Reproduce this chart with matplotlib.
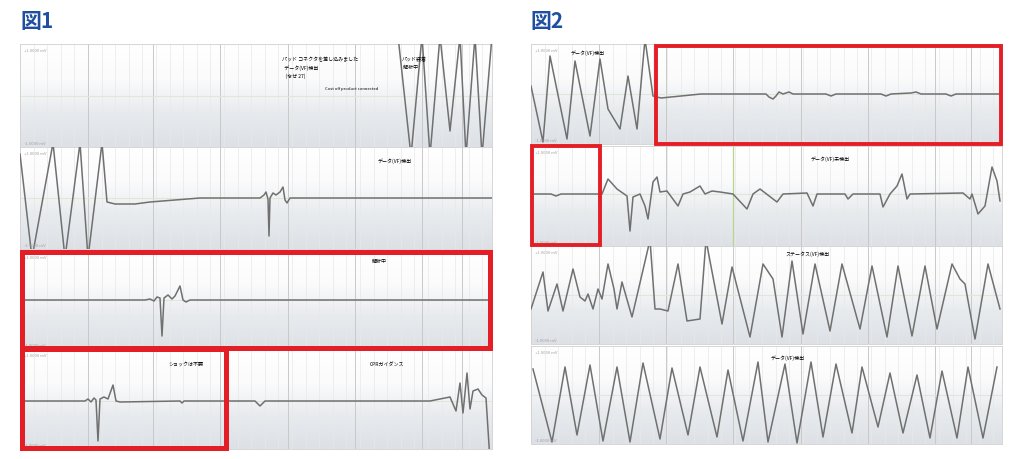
import numpy as np
import matplotlib
matplotlib.use("Agg")
import matplotlib.pyplot as plt
from matplotlib.patches import Rectangle

plt.rcParams['font.family'] = ['Noto Sans CJK JP', 'DejaVu Sans']

W, H = 1012, 460

# ---- data: ECG traces, time in samples, amplitude in 0.02 mV units ----
f1_s1_t = [378, 391, 402, 410, 420, 430, 440, 446, 455, 462, 472]
f1_s1_v = [60, -60, 60, -60, 60, -35, 60, -60, 60, -60, 60]

f1_s2_t = [0, 12, 33, 45, 60, 68, 82, 87, 95, 115, 130, 180, 240, 244, 246, 248, 249, 250,
           253, 256, 260, 263, 265, 267, 270, 472]
f1_s2_v = [44, -60, 55, -60, 55, -60, 55, -4, -6, -6, -4, 0, 0, 3, 6, -1, -38, 0,
           5, 3, 6, 11, -2, -5, 0, 0]

f1_s3_t = [0, 125, 130, 134, 137, 140, 142, 144, 148, 152, 155, 160, 163, 166, 170, 472]
f1_s3_v = [0, 0, 1, -1, 3, 2, -36, 2, 5, 1, 4, 14, 0, -2, 0, 0]

f1_s4_t = [0, 65, 68, 71, 74, 76, 78, 80, 84, 88, 93, 96, 100, 160, 162, 164, 235, 240, 245,
           410, 420, 430, 436, 440, 443, 447, 450, 453, 458, 462, 466, 470]
f1_s4_v = [0, 0, 2, -1, 3, 1, -40, 2, 4, 2, 16, 0, -1, 0, -2, 0, 0, -5, 0,
           0, 2, 4, -10, 18, -12, 28, -8, 10, 12, 6, 3, -60]

f2_s1_t = [0, 12, 19, 36, 44, 59, 69, 77, 89, 97, 106, 114, 122, 130, 150, 170, 235, 238,
           242, 245, 248, 252, 258, 262, 295, 300, 305, 350, 355, 360, 380, 385, 390, 415,
           420, 425, 471]
f2_s1_v = [8, -48, 38, -45, 33, -42, 35, -15, -35, 18, -35, 55, -2, -4, -2, 0, 0, -3,
           -5, -2, 2, 0, 2, 0, 0, -2, 0, 0, -2, 0, 1, 2, 0, 0,
           -2, 0, 0]

f2_s2_t = [0, 20, 25, 30, 71, 77, 86, 96, 99, 102, 109, 114, 117, 122, 126, 129, 136, 147,
           152, 159, 169, 174, 181, 189, 202, 216, 222, 229, 246, 252, 276, 282, 286, 314,
           317, 322, 349, 352, 359, 366, 371, 376, 379, 432, 439, 441, 447, 454, 461, 466, 469]
f2_s2_v = [0, 0, -2, 0, 0, 15, 5, -2, -37, -3, 0, -12, -25, 12, 17, 2, 3, -12,
           0, 2, 8, 0, 3, 2, 0, -15, 0, 5, -8, 0, 1, -12, 0, 0,
           -5, 0, 0, -13, 0, 8, 20, -5, 0, 1, -5, 0, -20, -12, 27, 13, -7]

f2_s3_t = [0, 12, 17, 26, 32, 42, 49, 54, 57, 62, 67, 71, 77, 83, 86, 91, 101, 119, 124,
           129, 137, 147, 156, 169, 175, 191, 201, 219, 232, 242, 251, 261, 272, 284, 299,
           311, 329, 341, 356, 367, 381, 394, 406, 421, 429, 434, 444, 457, 469]
f2_s3_v = [-14, 23, -16, 11, -16, 26, -2, -6, 1, -14, 6, -4, 31, 6, -14, 13, -22, 55, -14,
           -14, -16, 31, -26, -24, 55, -29, 28, -42, 31, 16, -42, 34, -39, 31, -36,
           31, -34, 29, -42, 29, -41, 29, -34, 31, 16, 11, -44, 31, -14]

f2_s4_t = [2, 21, 34, 46, 59, 72, 86, 99, 112, 129, 141, 157, 169, 186, 197, 212, 227, 237,
           254, 266, 280, 292, 305, 321, 331, 347, 359, 372, 386, 399, 411, 426, 437, 452, 466]
f2_s4_v = [26, -47, 28, -40, 30, -46, 28, -47, 32, -44, 27, -40, 28, -42, 25, -46, 33, -47,
           31, -48, 33, -42, 31, -38, 28, -32, 22, -38, 20, -43, 24, -43, 28, -43, 28]

f1_labels = [["パッド コネクタを差し込みました\n  データ(VF)検出\n   (なぜ 27)", "パッド装着\n 解析中"],
             ["データ(VF)検出"], ["解析中"], ["ショックは不要", "CPRガイダンス"]]
f2_labels = [["データ(VF)検出"], ["データ(VF)未検出"], ["ステータス(VF)検出"], ["データ(VF)検出"]]

fig = plt.figure(figsize=(W / 100, H / 100), dpi=100)
fig.patch.set_facecolor('white')

grad = np.linspace(0, 1, 100).reshape(-1, 1)
bgcmap = matplotlib.colors.LinearSegmentedColormap.from_list(
    'bg', ['#ffffff', '#fbfbfc', '#e8ebee', '#dde1e6'])


def strip(x0, y0, x1, y1, t, v, base, gridx, green=None):
    ax = fig.add_axes([x0 / W, 1 - y1 / H, (x1 - x0) / W, (y1 - y0) / H])
    ax.set_xlim(0, x1 - x0)
    ax.set_ylim(base - y1, base - y0)
    ax.imshow(grad, cmap=bgcmap, aspect='auto', extent=[0, x1 - x0, base - y1, base - y0],
              zorder=0)
    for gx in np.arange(0, x1 - x0, 13.6):
        ax.axvline(gx, color='#e8e8e8', lw=0.5, zorder=1)
    for gx in gridx:
        ax.axvline(gx, color='#c9c9c9', lw=0.7, zorder=1)
    ax.axhline(0, color='#dfe6dc', lw=0.8, zorder=1)
    if green is not None:
        ax.axvline(green, color='#b8d68a', lw=0.9, zorder=1)
    ax.plot(t, v, color='#707070', lw=1.1, zorder=3, solid_joinstyle='round')
    ax.text(4, base - y0 - 4, '+1.0000 mV', fontsize=3, color='#a0a0a0', va='top', zorder=4)
    ax.text(4, base - y1 + 2, '-1.0000 mV', fontsize=3, color='#a0a0a0', va='bottom', zorder=4)
    ax.set_xticks([])
    ax.set_yticks([])
    for s in ax.spines.values():
        s.set_color('#d0d0d0')
        s.set_linewidth(0.6)
    return ax


g1 = [68, 133, 200, 268, 335, 402, 442]
a = strip(20, 45, 492, 148, f1_s1_t, f1_s1_v, 97, g1)
a.text(262, 40, f1_labels[0][0], fontsize=3.6, va='top', zorder=4, linespacing=1.6)
a.text(382, 40, f1_labels[0][1], fontsize=3.6, va='top', zorder=4, linespacing=1.6)
a.text(305, 10, 'Cost off product connected', fontsize=3, va='top', zorder=4)
a = strip(20, 148, 492, 250, f1_s2_t, f1_s2_v, 199, g1)
a.text(358, 36, f1_labels[1][0], fontsize=3.6, zorder=4)
a = strip(20, 252, 492, 350, f1_s3_t, f1_s3_v, 301, g1)
a.text(352, 38, f1_labels[2][0], fontsize=3.6, zorder=4)
a = strip(20, 350, 492, 450, f1_s4_t, f1_s4_v, 402, g1)
a.text(148, 36, f1_labels[3][0], fontsize=3.6, zorder=4)
a.text(350, 36, f1_labels[3][1], fontsize=3.6, zorder=4)

g2 = [68, 135, 202, 270, 337, 404, 440]
a = strip(531, 45, 1002, 145, f2_s1_t, f2_s1_v, 95, g2)
a.text(40, 40, f2_labels[0][0], fontsize=3.6, zorder=4)
a = strip(531, 147, 1002, 247, f2_s2_t, f2_s2_v, 195, g2, green=202)
a.text(280, 34, f2_labels[1][0], fontsize=3.6, zorder=4)
a = strip(531, 247, 1002, 345, f2_s3_t, f2_s3_v, 296, g2)
a.text(255, 40, f2_labels[2][0], fontsize=3.6, zorder=4)
a = strip(531, 347, 1002, 445, f2_s4_t, f2_s4_v, 396, g2)
a.text(240, 36, f2_labels[3][0], fontsize=3.6, zorder=4)

# red highlight boxes
for (x0, y0, x1, y1, lw) in [(22, 253, 490, 349, 3.6), (22, 350, 226, 449, 3.6),
                             (656, 47, 1001, 145, 2.8), (532, 147, 600, 246, 2.8)]:
    fig.add_artist(Rectangle((x0 / W, 1 - y1 / H), (x1 - x0) / W, (y1 - y0) / H,
                             transform=fig.transFigure, fill=False,
                             edgecolor='#e41e26', lw=lw, zorder=10))

fig.text(20 / W, 1 - 22 / H, '図1', fontsize=15, fontweight='bold', color='#1f4f9e', va='center')
fig.text(530 / W, 1 - 22 / H, '図2', fontsize=15, fontweight='bold', color='#1f4f9e', va='center')

fig.savefig('out.png', dpi=100)
